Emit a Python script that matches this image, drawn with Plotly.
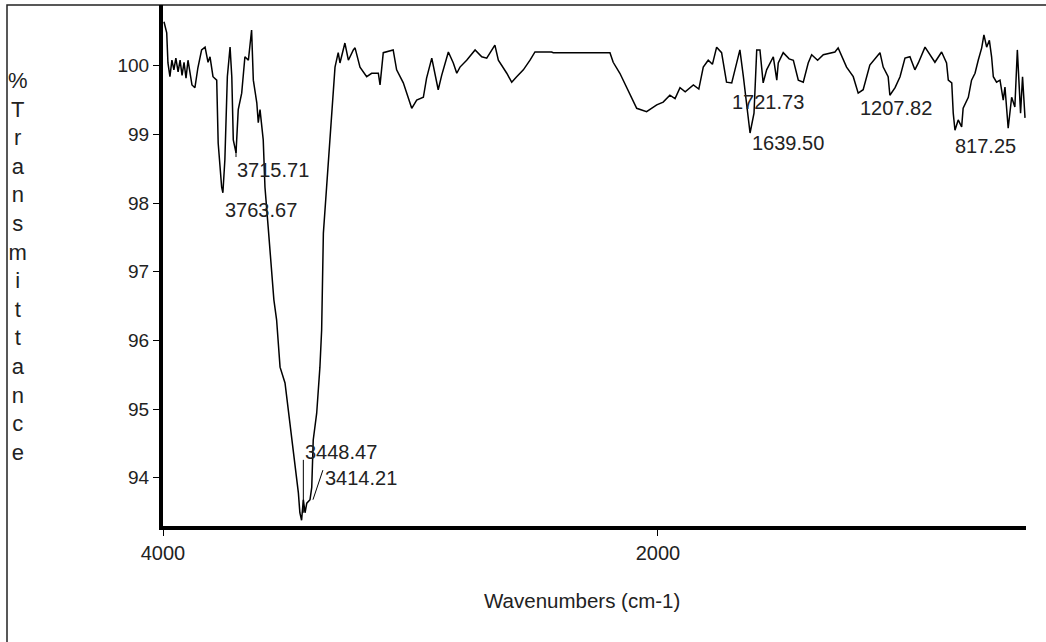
import plotly.graph_objects as go

# Wavenumber (cm-1) and %Transmittance
wavenumber = [3996, 3985, 3980, 3972, 3964, 3956, 3948, 3939, 3931, 3923, 3915, 3907, 3899, 3891, 3883,
              3871, 3859, 3844, 3830, 3818, 3810, 3798, 3783, 3777, 3763, 3758, 3750, 3740, 3729, 3722,
              3716, 3705, 3696, 3682, 3669, 3655, 3642, 3635, 3621, 3615, 3608, 3595, 3588, 3575, 3561,
              3552, 3541, 3527, 3507, 3494, 3480, 3467, 3453, 3447, 3440, 3433, 3426, 3419, 3406, 3399,
              3393, 3379, 3366, 3359, 3355, 3352, 3339, 3325, 3314, 3305, 3292, 3285, 3265, 3251, 3231,
              3224, 3204, 3177, 3157, 3130, 3123, 3110, 3070, 3056, 3029, 2995, 2975, 2948, 2935, 2914,
              2888, 2874, 2847, 2827, 2813, 2800, 2773, 2739, 2712, 2692, 2659, 2645, 2611, 2591, 2571,
              2544, 2517, 2497, 2430, 2423, 2194, 2181, 2154, 2127, 2086, 2046, 2032, 2005, 1979, 1952,
              1931, 1911, 1890, 1857, 1835, 1817, 1797, 1780, 1763, 1743, 1723, 1702, 1689, 1669, 1655, 1642, 1628, 1612, 1601,
              1588, 1575, 1561, 1534, 1520, 1514, 1494, 1470, 1453, 1433, 1413, 1393, 1379, 1355, 1332, 1285, 1272,
              1238, 1211, 1191, 1171, 1144, 1103, 1090, 1070, 1063, 1042, 1022, 1002, 982, 962, 948,
              921, 901, 881, 854, 834, 827, 813, 807, 800, 787, 773, 767, 746, 733, 719,
              706, 692, 683, 672, 661, 652, 645, 632, 618, 605, 598, 585, 571, 558, 548,
              540, 535, 527, 517]
transmittance = [100.64, 100.48, 100.04, 99.84, 100.08, 99.94, 100.11, 99.91, 100.08, 99.86, 100.05, 99.82, 100.08, 99.91, 99.72,
                 99.68, 99.97, 100.23, 100.27, 100.05, 100.13, 99.84, 99.79, 98.87, 98.23, 98.15, 98.63, 99.84, 100.27, 99.84,
                 98.92, 98.73, 99.36, 99.60, 100.13, 100.08, 100.52, 99.79, 99.46, 99.17, 99.36, 98.92, 98.23, 97.65, 96.98,
                 96.59, 96.30, 95.61, 95.38, 94.99, 94.65, 94.26, 93.78, 93.49, 93.38, 93.68, 93.49, 93.63, 93.68, 93.86,
                 94.55, 94.94, 95.61, 96.15, 96.88, 97.56, 98.23, 98.92, 99.54, 99.98, 100.19, 100.04, 100.33, 100.08, 100.23,
                 100.26, 99.98, 99.84, 99.89, 99.89, 99.72, 100.19, 100.23, 99.94, 99.75, 99.38, 99.50, 99.54, 99.82, 100.11,
                 99.65, 99.86, 100.20, 100.04, 99.89, 99.98, 100.08, 100.23, 100.13, 100.11, 100.30, 100.08, 99.89, 99.76, 99.84,
                 99.94, 100.08, 100.20, 100.20, 100.19, 100.19, 100.05, 99.89, 99.69, 99.38, 99.33, 99.36, 99.43, 99.47, 99.57,
                 99.52, 99.68, 99.62, 99.72, 99.66, 99.98, 100.08, 100.02, 100.27, 100.19, 99.76, 99.75, 99.94, 100.23, 99.84, 99.40, 99.02, 99.31, 100.23,
                 100.23, 99.75, 99.94, 100.13, 99.79, 100.04, 100.19, 100.10, 100.08, 99.79, 99.76, 100.04, 100.16, 100.08, 100.16, 100.20, 100.26,
                 99.98, 99.84, 99.60, 99.65, 100.01, 100.19, 99.98, 99.84, 99.57, 99.68, 99.84, 100.11, 100.13, 99.94, 100.04,
                 100.27, 100.16, 100.05, 100.20, 100.04, 99.79, 99.75, 99.31, 99.06, 99.21, 99.11, 99.38, 99.54, 99.79, 99.89,
                 100.08, 100.26, 100.45, 100.27, 100.37, 100.13, 99.84, 99.76, 99.79, 99.50, 99.69, 99.09, 99.54, 99.40, 100.23,
                 99.54, 99.31, 99.84, 99.24]

# Peak labels: text, label anchor (wavenumber, %T)
peak_text = ["3715.71", "3763.67", "3448.47", "3414.21", "1721.73", "1639.50", "1207.82", "817.25"]
peak_label_x = [3709, 3758, 3436, 3354, 1709, 1628, 1192, 808]
peak_label_y = [98.48, 97.90, 94.37, 94.00, 99.47, 98.87, 99.38, 98.83]

# Leader lines (wavenumber pairs, %T pairs)
leader_x = [(3705, 3705), (3433, 3433), (3354, 3394)]
leader_y = [(98.82, 98.67), (94.26, 93.49), (94.11, 93.68)]

x_ticks = [4000, 2000]
y_ticks = [94, 95, 96, 97, 98, 99, 100]
x_range = [4000, 513]
y_range = [93.297, 100.884]

y_title_letters = ["%", "T", "r", "a", "n", "s", "m", "i", "t", "t", "a", "n", "c", "e"]

FONT = "Liberation Sans, Arial, sans-serif"

fig = go.Figure()
fig.add_trace(go.Scatter(x=wavenumber, y=transmittance, mode="lines",
                         line=dict(color="black", width=1.5), hoverinfo="skip",
                         showlegend=False))

for t, xx, yy in zip(peak_text, peak_label_x, peak_label_y):
    fig.add_annotation(x=xx, y=yy, text=t, showarrow=False, xanchor="left", yanchor="middle",
                       font=dict(family=FONT, size=20, color="#222"))

for (x0, x1), (y0, y1) in zip(leader_x, leader_y):
    fig.add_shape(type="line", x0=x0, x1=x1, y0=y0, y1=y1, xref="x", yref="y",
                  line=dict(color="black", width=1))

# outer frame (top/left visible)
fig.add_shape(type="rect", xref="paper", yref="paper",
              x0=(7 - 163) / 863, x1=1.2, y0=-0.5, y1=1.0,
              line=dict(color="#222", width=1.5), layer="below")

fig.add_annotation(xref="paper", yref="paper", x=(18 - 163) / 863, y=(526 - 266) / 521,
                   text="<br>".join(y_title_letters), showarrow=False, xanchor="center",
                   yanchor="middle", align="center",
                   font=dict(family=FONT, size=22, color="#222"))

fig.add_annotation(xref="paper", yref="paper", x=(582 - 163) / 863, y=-(600 - 526) / 521,
                   text="Wavenumbers (cm-1)", showarrow=False, xanchor="center", yanchor="middle",
                   font=dict(family=FONT, size=20.5, color="#222"))

fig.update_layout(
    width=1046, height=642,
    margin=dict(l=163, r=20, t=5, b=116),
    paper_bgcolor="white", plot_bgcolor="white",
    xaxis=dict(range=x_range, tickvals=x_ticks, ticktext=[str(v) for v in x_ticks],
               showgrid=False, zeroline=False, showline=True, linecolor="black", linewidth=4,
               ticks="outside", ticklen=6, tickwidth=1, tickcolor="black",
               tickfont=dict(family=FONT, size=20, color="#222")),
    yaxis=dict(range=y_range, tickvals=y_ticks, ticktext=[str(v) for v in y_ticks],
               showgrid=False, zeroline=False, showline=True, linecolor="black", linewidth=4,
               ticks="outside", ticklen=6, tickwidth=1, tickcolor="black",
               tickfont=dict(family=FONT, size=19, color="#222")),
)

fig.write_html("out.html")
